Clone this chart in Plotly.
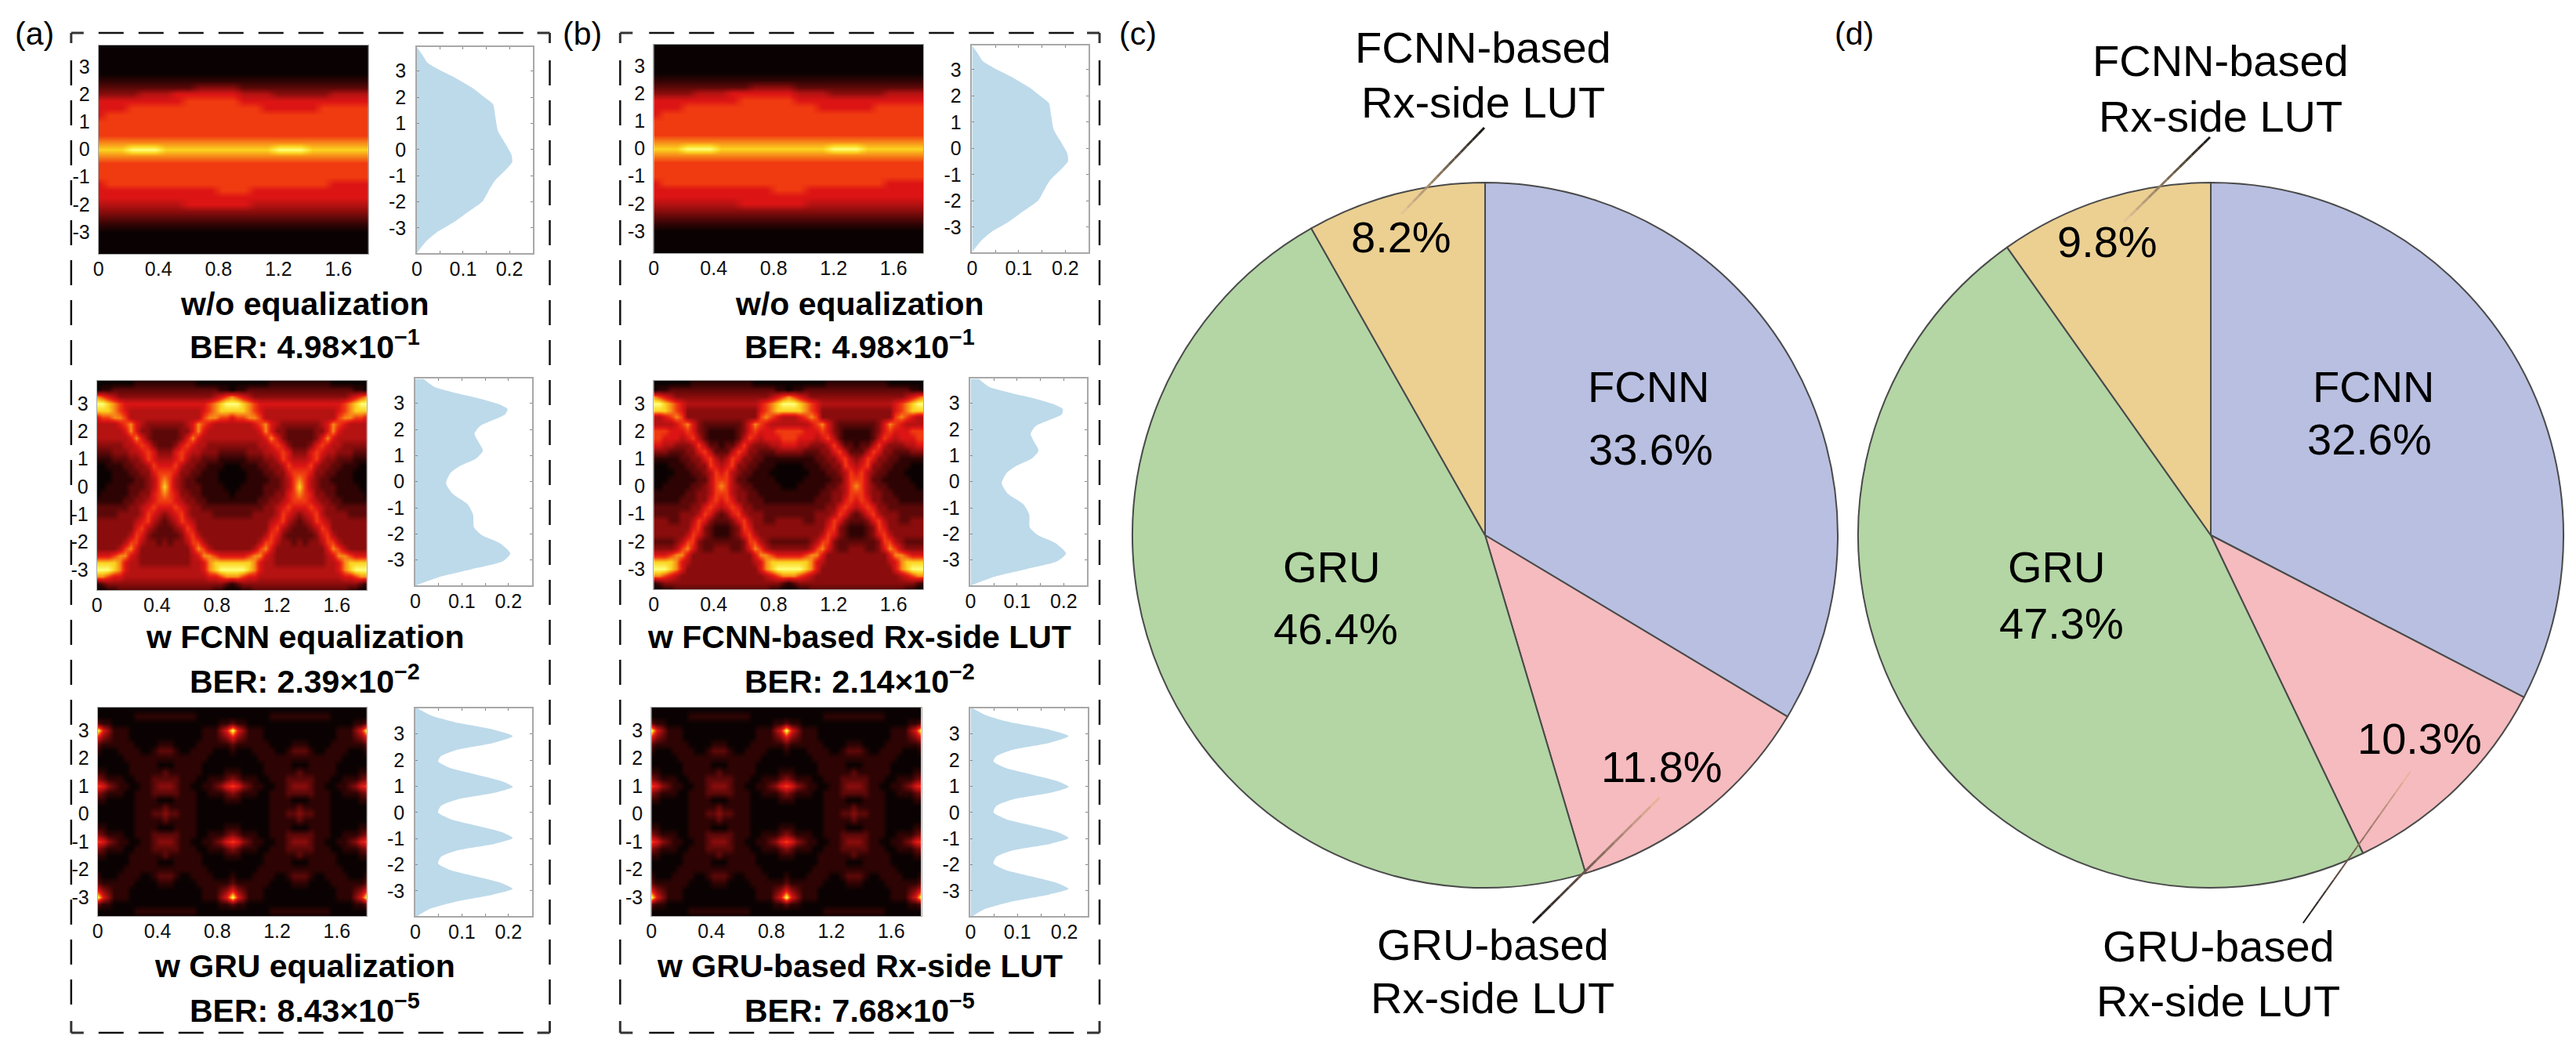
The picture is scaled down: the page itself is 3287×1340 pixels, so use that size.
import numpy as np
import plotly.graph_objects as go

W, H = 3287, 1340

# ---------- data ----------
eye_rows_y = [4 - j * 0.25 for j in range(33)]          # y of each row, top to bottom
cols_coarse_x = [i * 0.075 for i in range(25)]          # x of each column, 25-column eye
cols_fine_x = [i * 0.0375 for i in range(49)]           # x of each column, 49-column eye

EYE_NONE = [
"0000000000000000000000000","0000000000000000000000000","0000000000000000000000000",
"0000000000000000000000000","0000000000000000000000000","0000000000000000000000000",
"1111111111111111111111111","2222222223333222222222222","3333444555555444333334444",
"5555555566666555555555555","5556666666666665555566666","5666666666666666666666666",
"6666666666666666666666666","6666666666666666666666666","6666666666666666666666666",
"7777777777777777777777777","8889998888888888999888888","7777777777777777777777777",
"6666666666666666666666666","6666666666666666666666666","6666666666666666666666666",
"5666666666666666666665555","5555555555566655555555555","5555555555555555555555555",
"4444444455555544444444444","3333333333333333333333333","2222222222222222222222222",
"1111111111111111111111111","0000000000000000000000000","0000000000000000000000000",
"0000000000000000000000000","0000000000000000000000000","0000000000000000000000000",
]
EYE_FCNN = [
"0000000000000000000000000000000000000000000000000",
"0000000111111111110000000000000111111111110000000",
"0112222222222222222222110112222222222222222222110",
"7654333333333333333334567654333333333333333334567",
"9987655555555555555567899987655555555555555567899",
"8887654444444444444567888887654444444444444567888",
"5667764444444444444677665667764444444444444677665",
"4444567543333333457654444444567543333333457654444",
"4444457533222223357544444444457533222223357544444",
"4444445753222223575444444444445753222223575444444",
"3333344565322235654433333333344565322235654433333",
"2223334456533356544333222223334456533356544333222",
"1112223346544456433222111112223346544456433222111",
"0011122334655564332211100011122334655564332211100",
"0001112233566653322111000001112233566653322111000",
"0001111223467643221111000001111223467643221111000",
"0011112223468643222111100011112223468643222111100",
"0111112233567653322111110111112233567653322111110",
"1111122334566654332211111111122334566654332211111",
"2222223345655565433222222222223345655565433222222",
"2222333346543456433332222222333346543456433332222",
"3333333456432346543333333333333456432346543333333",
"3333333564322234653333333333333564322234653333333",
"3333334653222223564333333333334653222223564333333",
"3333346643323233466433333333346643323233466433333",
"3333467533333333357643333333467533333333357643333",
"5556775433333333345776555556775433333333345776555",
"8888754433333333344578888888754433333333344578888",
"9998754444444444444578999998754444444444444578999",
"7765544444444444444455677765544444444444444455677",
"1233333333333333333333321233333333333333333333321",
"0011222222222222222221100011222222222222222221100",
"0000001111111111111000000000001111111111111000000",
]
EYE_FCNN_LUT = [
"0000000000000000000000000000000000000000000000000",
"0000000111111111110000000000000111111111110000000",
"0112222222222222222222110112222222222222222222110",
"7654333333333333333334567654333333333333333334567",
"9987654444444444444567899987654444444444444567899",
"8887653333333333333567888887653333333333333567888",
"4456763333333333333676544456763333333333333676544",
"4444567532222222357654444444567532222222357654444",
"6665556532111112356555666665556532111112356555666",
"6655545642111112465455566655545642111112465455566",
"5544333464221224643334455544333464221224643334455",
"3332223356422246533222333332223356422246533222333",
"1111122335643465332211111111122335643465332211111",
"0001112233654563322111000001112233654563322111000",
"0000111223465643221110000000111223465643221110000",
"0001111122466642211111000001111122466642211111000",
"0011111223467643221111100011111223467643221111100",
"1111112233466643322111111111112233466643322111111",
"1111122233565653322211111111122233565653322211111",
"2222222335654565332222222222222335654565332222222",
"2222233346532356433322222222233346532356433322222",
"3332233465322235643322333332233465322235643322333",
"3333333563211123653333333333333563211123653333333",
"3333334653211123564333333333334653211123564333333",
"2222346632222222366432222222346632222222366432222",
"3333467532233322357643333333467532233322357643333",
"5556775333333333335776555556775333333333335776555",
"8888754333333333334578888888754333333333334578888",
"9998753333333333333578999998753333333333333578999",
"7765433333333333333345677765433333333333333345677",
"1233333333333333333333321233333333333333333333321",
"0011222222222222222221100011222222222222222221100",
"0000001111111111111000000000001111111111111000000",
]
EYE_GRU = [
"0000000000000000000000000000000000000000000000000",
"0000000000000000000000000000000000000000000000000",
"0000000111111111110000000000000111111111110000000",
"2110000000000000000000112110000000000000000000112",
"9531110000000000000111359531110000000000000111359",
"5321110000000000000111235321110000000000000111235",
"2111111000011100001111112111111000011100001111112",
"1000111100122210011110001000111100122210011110001",
"0000011111111111111100000000011111111111111100000",
"0000001111100011111000000000001111100011111000000",
"1100001111112111111000011100001111112111111000011",
"3211100111222221110011123211100111222221110011123",
"6532110011233321100112356532110011233321100112356",
"3211100111222221110011123211100111222221110011123",
"1100000111100011110000011100000111100011110000011",
"0000000111112111110000000000000111112111110000000",
"0000000111223221110000000000000111223221110000000",
"0000000111112111110000000000000111112111110000000",
"1100000111100011110000011100000111100011110000011",
"3211100111222221110011123211100111222221110011123",
"6532110011233321100112356532110011233321100112356",
"3211100111222221110011123211100111222221110011123",
"1100001111112111111000011100001111112111111000011",
"0000001111100011111000000000001111100011111000000",
"0000011111111111111100000000011111111111111100000",
"1000111100122210011110001000111100122210011110001",
"2111111000011100001111112111111000011100001111112",
"5321110000000000000111235321110000000000000111235",
"9531110000000000000111359531110000000000000111359",
"2110000000000000000000112110000000000000000000112",
"0000000111111111110000000000000111111111110000000",
"0000000000000000000000000000000000000000000000000",
"0000000000000000000000000000000000000000000000000",
]

Y_NONE = [3.92,3.62,3.32,3.07,2.72,2.32,2.0,1.72,1.32,.72,.32,-.18,-.48,-.78,-1.18,-1.48,-1.98,-2.38,-2.78,-3.18,-3.53,-3.96]
D_NONE = [0,.012,.023,.046,.085,.123,.146,.165,.169,.175,.188,.204,.206,.192,.169,.158,.142,.111,.08,.042,.019,0]

Y_FCNN = [3.93,3.63,3.38,3.18,2.98,2.78,2.58,2.38,2.13,1.83,1.54,1.19,.89,.59,.34,-.06,-.46,-.86,-1.26,-1.75,-2.05,-2.35,-2.75,-3.05,-3.35,-3.65,-3.97]
D_FCNN = [.018,.041,.091,.138,.177,.198,.193,.170,.139,.127,.135,.145,.131,.095,.076,.066,.08,.112,.124,.126,.143,.181,.204,.188,.122,.052,.002]
D_FCNN_LUT = [.018,.040,.090,.138,.176,.198,.196,.172,.140,.129,.136,.146,.132,.097,.078,.067,.080,.113,.126,.127,.145,.182,.205,.186,.120,.050,.002]

Y_GRU = [3.98,3.7,3.45,3.2,2.92,2.65,2.4,2.15,1.95,1.7,1.45,1.2,.98,.75,.5,.25,0,-.25,-.5,-.75,-.98,-1.2,-1.45,-1.7,-1.95,-2.2,-2.45,-2.7,-2.92,-3.15,-3.4,-3.7,-3.98]
D_GRU = [.005,.035,.085,.16,.209,.165,.09,.055,.049,.075,.13,.185,.209,.17,.09,.055,.049,.075,.13,.185,.209,.17,.09,.055,.049,.075,.13,.185,.209,.165,.09,.03,.003]

SLICE_NAMES = ["FCNN", "GRU-based Rx-side LUT", "GRU", "FCNN-based Rx-side LUT"]
SHARES_C = [33.6, 11.8, 46.4, 8.2]
SHARES_D = [32.6, 10.3, 47.3, 9.8]
SLICE_COLORS = ["#B8BFE0", "#F5BBBE", "#B3D6A4", "#EBD092"]

HEAT_XTICKS = [0, 0.4, 0.8, 1.2, 1.6]
HEAT_XTEXT = ["0", "0.4", "0.8", "1.2", "1.6"]
YTICKS = [3, 2, 1, 0, -1, -2, -3]
YTEXT = ["3", "2", "1", "0", "-1", "-2", "-3"]
DENS_XTICKS = [0, 0.1, 0.2]
DENS_XTEXT = ["0", "0.1", "0.2"]
DENS_XMINOR = [0.05, 0.15]

# panel boxes in page pixels: eye, heat box, density box, heat y range, density y range
PANELS = [
 (EYE_NONE,     (119,464,58,324),   (526,674,60,323),   (-3.80,3.78), (-3.96,3.92), Y_NONE, D_NONE),
 (EYE_FCNN,     (117,462,486,753),  (524,673,483,747),  (-3.74,3.82), (-3.97,3.95), Y_FCNN, D_FCNN),
 (EYE_GRU,      (118,462,903,1169), (524,673,904,1169), (-3.68,3.81), (-3.96,3.98), Y_GRU,  D_GRU),
 (EYE_NONE,     (829,1174,57,323),  (1236,1385,58,322), (-3.80,3.78), (-3.96,3.92), Y_NONE, D_NONE),
 (EYE_FCNN_LUT, (829,1174,486,752), (1234,1383,483,747),(-3.74,3.82), (-3.97,3.95), Y_FCNN, D_FCNN_LUT),
 (EYE_GRU,      (826,1171,903,1169),(1234,1384,904,1169),(-3.68,3.81),(-3.96,3.98), Y_GRU,  D_GRU),
]
for m in (EYE_FCNN, EYE_FCNN_LUT, EYE_GRU):
    assert len(m) == 33 and all(len(r) == 49 for r in m), [len(r) for r in m]
assert all(len(r) == 25 for r in EYE_NONE)

HOT = ["#0a0202", "#2e0303", "#5c0808", "#8a0c0c", "#b51212", "#dc1414",
       "#f03a10", "#f78a18", "#fbd320", "#ffff78"]
HOT_SCALE = [[i / 9, c] for i, c in enumerate(HOT)]

FONT = "Liberation Sans"
TICK = dict(family=FONT, size=25, color="#111111")
FRAME = "#a8a8a8"


def px(x): return x / W
def py(y): return 1 - y / H


fig = go.Figure()
axes = {}
n = 0


def ax_key(prefix, k): return prefix if k == 1 else f"{prefix}{k}"


for rows, hb, db, hr, dr, ydens, dens in PANELS:
    # eye diagram
    n += 1
    z = np.array([[int(c) for c in r] for r in rows])[::-1]
    xs = cols_fine_x if len(rows[0]) == 49 else cols_coarse_x
    fig.add_trace(go.Heatmap(x=xs, y=eye_rows_y[::-1], z=z, zmin=0, zmax=9,
                             colorscale=HOT_SCALE, showscale=False, zsmooth="best",
                             xaxis=f"x{n}", yaxis=f"y{n}", hoverinfo="skip"))
    axes[ax_key("xaxis", n)] = dict(domain=[px(hb[0]), px(hb[1])], anchor=f"y{n}", range=[0, 1.8],
                                    tickvals=HEAT_XTICKS, ticktext=HEAT_XTEXT, ticks="", tickfont=TICK,
                                    showgrid=False, zeroline=False, showline=True, linecolor=FRAME,
                                    linewidth=1, mirror=True, ticklabelstandoff=-3)
    axes[ax_key("yaxis", n)] = dict(domain=[py(hb[3]), py(hb[2])], anchor=f"x{n}", range=list(hr),
                                    tickvals=YTICKS, ticktext=YTEXT, ticks="", tickfont=TICK,
                                    showgrid=False, zeroline=False, showline=True, linecolor=FRAME,
                                    linewidth=1, mirror=True, ticklabelstandoff=5)
    # amplitude density
    n += 1
    fig.add_trace(go.Scatter(x=dens, y=ydens, mode="lines", fill="tozerox", fillcolor="#BDDAEA",
                             line=dict(width=0, color="#BDDAEA", shape="spline", smoothing=0.6),
                             xaxis=f"x{n}", yaxis=f"y{n}", showlegend=False, hoverinfo="skip"))
    axes[ax_key("xaxis", n)] = dict(domain=[px(db[0]), px(db[1])], anchor=f"y{n}", range=[0, 0.25],
                                    tickvals=DENS_XTICKS, ticktext=DENS_XTEXT, ticks="inside", ticklen=3,
                                    tickcolor="#888888", tickfont=TICK, showgrid=False, zeroline=False,
                                    minor=dict(tickvals=DENS_XMINOR, ticks="inside", ticklen=3,
                                               tickcolor="#888888", showgrid=False),
                                    showline=True, linecolor=FRAME, linewidth=1.5, mirror="ticks",
                                    ticklabelstandoff=-3)
    axes[ax_key("yaxis", n)] = dict(domain=[py(db[3]), py(db[2])], anchor=f"x{n}", range=list(dr),
                                    tickvals=YTICKS, ticktext=YTEXT, ticks="inside", ticklen=3,
                                    tickcolor="#888888", tickfont=TICK, showgrid=False, zeroline=False,
                                    showline=True, linecolor=FRAME, linewidth=1.5, mirror="ticks",
                                    ticklabelstandoff=7)

# pies
R = 451
for shares, cx, cy in ((SHARES_C, 1892, 683), (SHARES_D, 2820, 683)):
    fig.add_trace(go.Pie(values=shares, labels=SLICE_NAMES, sort=False, direction="clockwise", rotation=0,
                         marker=dict(colors=SLICE_COLORS, line=dict(color="#4a4a4a", width=2)),
                         textinfo="none", hoverinfo="label+percent", showlegend=False,
                         domain=dict(x=[px(cx - R), px(cx + R)], y=[py(cy + R), py(cy - R)])))

ann = []


def text(x, y, s, size=56, bold=False):
    ann.append(dict(x=px(x), y=py(y), xref="paper", yref="paper", text=f"<b>{s}</b>" if bold else s,
                    showarrow=False, xanchor="center", yanchor="middle",
                    font=dict(family=FONT, size=size, color="#000000")))


for s, x in (("(a)", 37), ("(b)", 738), ("(c)", 1448), ("(d)", 2364)):
    text(x, 43, s, size=41)

TITLE_Y = [(388, 440), (813, 867), (1233, 1287)]
TITLES_A = [("w/o equalization", "BER: 4.98×10<sup>−1</sup>"),
            ("w FCNN equalization", "BER: 2.39×10<sup>−2</sup>"),
            ("w GRU equalization", "BER: 8.43×10<sup>−5</sup>")]
TITLES_B = [("w/o equalization", "BER: 4.98×10<sup>−1</sup>"),
            ("w FCNN-based Rx-side LUT", "BER: 2.14×10<sup>−2</sup>"),
            ("w GRU-based Rx-side LUT", "BER: 7.68×10<sup>−5</sup>")]
for cx, titles in ((383, TITLES_A), (1092, TITLES_B)):
    for (a, b), (y1, y2) in zip(titles, TITLE_Y):
        text(cx, y1, a, size=41, bold=True)
        text(cx, y2, b, size=41, bold=True)

for x, y, s in [(1890, 60, "FCNN-based"), (1890, 131, "Rx-side LUT"), (1902, 1205, "GRU-based"),
                (1902, 1273, "Rx-side LUT"), (2101, 493, "FCNN"), (2104, 573, "33.6%"),
                (1696, 723, "GRU"), (1701, 802, "46.4%"), (1785, 302, "8.2%"), (2118, 978, "11.8%"),
                (2833, 78, "FCNN-based"), (2833, 148, "Rx-side LUT"), (2830, 1207, "GRU-based"),
                (2830, 1277, "Rx-side LUT"), (3028, 493, "FCNN"), (3023, 560, "32.6%"),
                (2623, 723, "GRU"), (2629, 795, "47.3%"), (2688, 308, "9.8%"), (3087, 942, "10.3%")]:
    text(x, y, s)

shapes = []


def seg(x0, y0, x1, y1, color="#111111", width=2.5, dash="solid"):
    shapes.append(dict(type="line", xref="paper", yref="paper", x0=px(x0), y0=py(y0), x1=px(x1), y1=py(y1),
                       line=dict(color=color, width=width, dash=dash), layer="above"))


def box(l, r, t, b, first):
    dash = "32px,19px"
    seg(first, t, r - 30, t, dash=dash)
    seg(first, b, r - 30, b, dash=dash)
    seg(l, t + 35, l, b - 30, dash=dash)
    seg(r, t + 35, r, b - 30, dash=dash)
    for x0, xs in ((l, 16), (r, -16)):
        for y0, ys in ((t, 13), (b, -15)):
            seg(x0, y0, x0 + xs, y0, color="#333333", width=3)
            seg(x0, y0, x0, y0 + ys, color="#333333", width=3)


box(84, 696, 42, 1318, 119)
box(786, 1399, 42, 1318, 823)


def hex2(c): return [int(c[i:i + 2], 16) for i in (1, 3, 5)]


def leader(x0, y0, x1, y1, c1, width=3, parts=14):
    a, b = np.array(hex2("#151515")), np.array(hex2(c1))
    for i in range(parts):
        t0, t1 = i / parts, (i + 1) / parts
        col = a + (b - a) * (t0 + t1) / 2
        seg(x0 + (x1 - x0) * t0, y0 + (y1 - y0) * t0, x0 + (x1 - x0) * t1, y0 + (y1 - y0) * t1,
            color="rgb(%d,%d,%d)" % tuple(col), width=width)


leader(1891, 163, 1785, 273, "#ecc99a")
leader(1953, 1178, 2115, 1018, "#f0b8a0")
leader(2819, 175, 2709, 283, "#ecc99a")
leader(2938, 1178, 3075, 985, "#f0b8a0", width=2)

layout = dict(width=W, height=H, margin=dict(l=0, r=0, t=0, b=0, pad=0), paper_bgcolor="white",
              plot_bgcolor="white", showlegend=False, annotations=ann, shapes=shapes,
              font=dict(family=FONT))
layout.update(axes)
fig.update_layout(**layout)
fig.write_html("out.html", config=dict(displayModeBar=False),
               post_script="document.body.style.margin='0';document.documentElement.style.overflow='hidden';")
